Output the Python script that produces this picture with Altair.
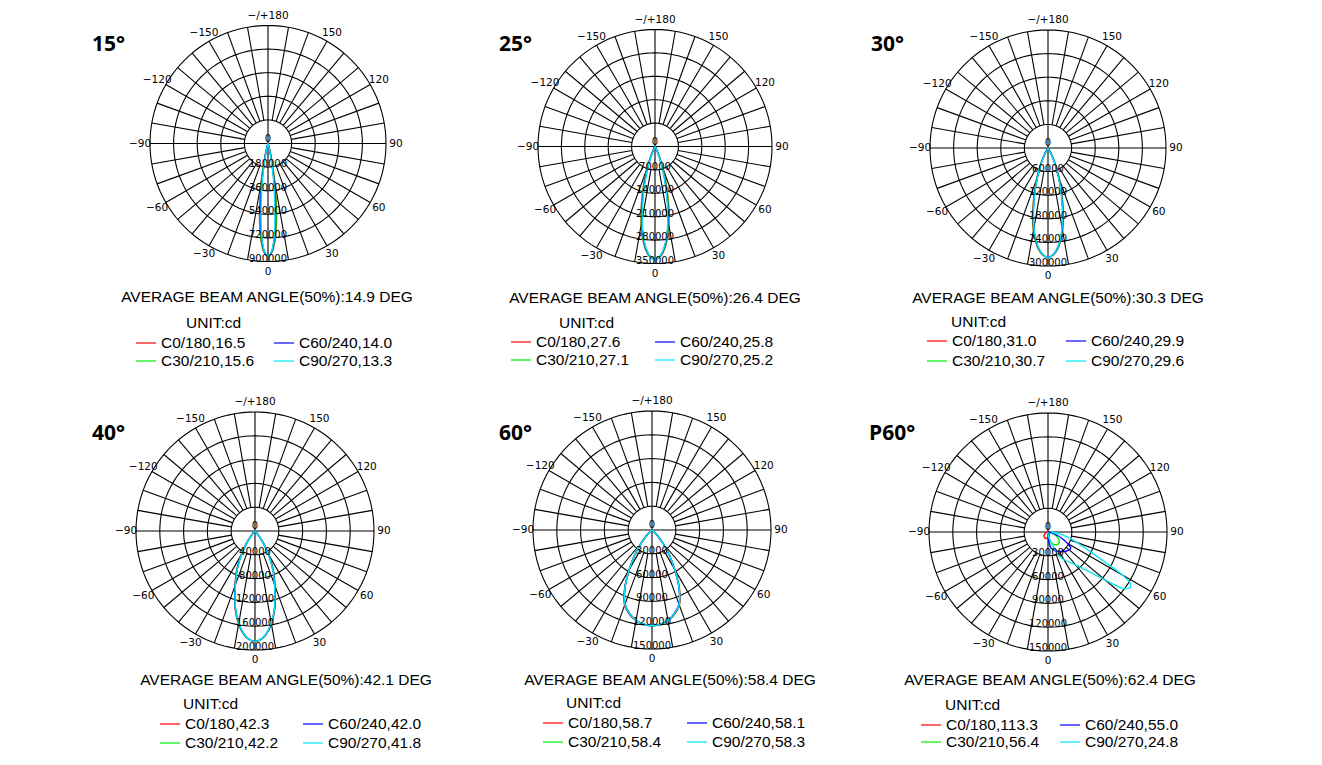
import math
import pandas as pd
import altair as alt

W, H = 1322, 765

# ---------------- data ----------------
PANEL_NAMES = ["15°", "25°", "30°", "40°", "60°", "P60°"]
BEAM_AVG = ["14.9", "26.4", "30.3", "42.1", "58.4", "62.4"]
RING_STEP = [180000, 70000, 60000, 40000, 30000, 30000]
SERIES = ["C0/180", "C30/210", "C60/240", "C90/270"]
SERIES_BEAM = [
    ["16.5", "15.6", "14.0", "13.3"],
    ["27.6", "27.1", "25.8", "25.2"],
    ["31.0", "30.7", "29.9", "29.6"],
    ["42.3", "42.2", "42.0", "41.8"],
    ["58.7", "58.4", "58.1", "58.3"],
    ["113.3", "56.4", "55.0", "24.8"],
]
COLORS = ["#ff0000", "#00ee00", "#0000ff", "#00e8f8"]
ANGLE_TICKS = [0, 30, 60, 90, 120, 150, 180, 210, 240, 270, 300, 330]
ANGLE_TEXT = ["0", "30", "60", "90", "120", "150", "\u2212/+180", "\u2212150", "\u2212120",
              "\u221290", "\u221260", "\u221230"]

# symmetric panels: half-profile (angle from nadir, deg) -> intensity (cd), mirrored for C180 side
P1_ANG = [0, 2, 4, 6, 8, 10, 12, 14, 16, 18, 20]
P1_C0 = [860000, 832000, 748000, 612000, 452000, 298000, 168000, 80000, 30000, 10000, 0]
P1_C30 = [860000, 828000, 738000, 594000, 428000, 268000, 145000, 65000, 22000, 6000, 0]
P1_C60 = [860000, 822000, 712000, 554000, 378000, 220000, 110000, 45000, 14000, 3000, 0]
P1_C90 = [860000, 818000, 700000, 512000, 332000, 195000, 90000, 35000, 10000, 2000, 0]

P2_ANG = [0, 3, 6, 9, 12, 15, 18, 21, 24, 27, 30, 33]
P2_C0 = [337000, 328000, 300000, 255000, 200000, 145000, 95000, 55000, 27000, 10000, 3000, 0]
P2_C30 = [337000, 327000, 298000, 252000, 196000, 140000, 90000, 51000, 24000, 9000, 2000, 0]
P2_C60 = [337000, 326000, 294000, 245000, 186000, 128000, 80000, 43000, 19000, 7000, 1500, 0]
P2_C90 = [337000, 325000, 292000, 241000, 180000, 122000, 75000, 40000, 17000, 6000, 1000, 0]

P3_ANG = [0, 3, 6, 9, 12, 15, 18, 21, 24, 27, 30, 33, 36, 39]
P3_C0 = [278000, 272000, 254000, 225000, 188000, 145000, 108000, 76000, 49000, 28000, 13000, 5000, 1200, 0]
P3_C30 = [278000, 271000, 253000, 223000, 185000, 142000, 105000, 73000, 47000, 26000, 12000, 4500, 1000, 0]
P3_C60 = [278000, 270000, 251000, 220000, 180000, 138000, 100000, 69000, 43000, 23000, 10000, 3500, 800, 0]
P3_C90 = [278000, 270000, 250000, 218000, 178000, 136000, 98000, 67000, 41000, 22000, 9500, 3000, 700, 0]

P4_ANG = [0, 4, 8, 12, 16, 20, 24, 28, 32, 36, 40, 44, 48]
P4_C0 = [185500, 181000, 168000, 148000, 124000, 98000, 78000, 57000, 37000, 20000, 8500, 2500, 0]
P4_C30 = [185500, 181000, 167500, 147500, 123500, 97500, 77000, 56000, 36000, 19500, 8000, 2300, 0]
P4_C60 = [185500, 180500, 167000, 147000, 123000, 97000, 76000, 55000, 35000, 19000, 7800, 2200, 0]
P4_C90 = [185500, 180500, 166500, 146500, 122000, 96000, 75000, 54000, 34000, 18000, 7500, 2000, 0]

P5_ANG = [0, 5, 10, 15, 20, 25, 30, 35, 40, 45, 50, 55, 60]
P5_C0 = [120600, 119500, 116000, 110000, 101000, 82000, 57500, 38000, 21000, 9000, 3000, 600, 0]
P5_C30 = [120600, 119400, 115800, 109500, 100000, 81000, 57000, 37500, 20500, 8800, 2900, 550, 0]
P5_C60 = [120600, 119300, 115500, 109000, 99500, 80500, 56500, 37000, 20000, 8500, 2800, 500, 0]
P5_C90 = [120600, 119300, 115600, 109200, 99800, 80800, 56800, 37300, 20300, 8600, 2850, 520, 0]

# asymmetric panel (P60): full profile, signed angle from nadir (deg)
P6_C0_ANG = [-90, -75, -60, -45, -30, -15, 0, 15, 30, 45, 60]
P6_C0 = [0, 2000, 4500, 7000, 8500, 8500, 7500, 5000, 2500, 800, 0]
P6_C30_ANG = [0, 10, 20, 30, 40, 50, 60, 70, 80, 90]
P6_C30 = [0, 9000, 15000, 18500, 20000, 18500, 14000, 8000, 2000, 0]
P6_C60_ANG = [-10, 0, 10, 20, 30, 40, 50, 55, 60, 65, 70, 80, 90]
P6_C60 = [0, 3000, 20000, 25000, 28000, 32000, 35000, 35000, 28000, 20000, 12000, 3000, 0]
P6_C90_ANG = [-10, 0, 10, 20, 26, 30, 35, 40, 45, 50, 53, 56, 58, 60, 62, 66, 71, 80, 90]
P6_C90 = [0, 3000, 8000, 20000, 35000, 40000, 46000, 54000, 68000, 94000, 118000, 125000,
          122000, 108000, 82000, 54000, 36000, 16000, 4000]

SYM = [
    (P1_ANG, [P1_C0, P1_C30, P1_C60, P1_C90]),
    (P2_ANG, [P2_C0, P2_C30, P2_C60, P2_C90]),
    (P3_ANG, [P3_C0, P3_C30, P3_C60, P3_C90]),
    (P4_ANG, [P4_C0, P4_C30, P4_C60, P4_C90]),
    (P5_ANG, [P5_C0, P5_C30, P5_C60, P5_C90]),
]
ASYM = [(P6_C0_ANG, P6_C0), (P6_C30_ANG, P6_C30), (P6_C60_ANG, P6_C60), (P6_C90_ANG, P6_C90)]

# ---------------- layout ----------------
CENTERS = [(268, 143.5), (655, 146.5), (1048, 148), (255, 531), (652, 530), (1048, 532)]
RADII = [118, 117, 118, 119, 119, 119]
NAME_POS = [(92, 45), (499, 45), (871, 45), (92, 434), (499, 434), (869, 434)]
# title cx, title y, unit x, unit y, line1 x, line2 x, row1 y, row2 y
LEG = [
    (267, 297, 186, 323, 136, 274, 343, 361),
    (655, 298, 559, 323, 511, 655, 342, 360),
    (1058, 298, 951, 322, 927, 1066, 341, 361),
    (286, 680, 183, 704, 160, 303, 724, 743),
    (670, 680, 566, 703, 543, 687, 723, 742),
    (1050, 680, 945, 705, 921, 1060, 725, 742),
]


def pol(cx, cy, r, deg):
    t = math.radians(deg)
    return cx + r * math.sin(t), cy + r * math.cos(t)


grid, spokes, curves, alabels, rlabels = [], [], [], [], []
titles, names, legtext, leglines = [], [], [], []

for p, (cx, cy) in enumerate(CENTERS):
    R = RADII[p]
    smax = RING_STEP[p] * 5
    for k in range(1, 6):
        for j in range(0, 361, 3):
            x, y = pol(cx, cy, R * k / 5, j)
            grid.append(dict(key=f"{p}-{k}", o=j, x=x, y=y))
    for a in range(0, 360, 10):
        r0 = 0 if a % 90 == 0 else R / 5
        x1, y1 = pol(cx, cy, r0, a)
        x2, y2 = pol(cx, cy, R, a)
        spokes.append(dict(x=x1, y=y1, x2=x2, y2=y2))
    for a, t in zip(ANGLE_TICKS, ANGLE_TEXT):
        x, y = pol(cx, cy, R + 10, a)
        alabels.append(dict(x=x, y=y, t=t))
    rlabels.append(dict(x=cx, y=cy - 5, t="0"))
    for k in range(1, 6):
        rlabels.append(dict(x=cx, y=cy + R * k / 5 - 3, t=str(RING_STEP[p] * k)))
    # curves
    if p < 5:
        angs, sers = SYM[p]
        for s, vals in enumerate(sers):
            full_a = [-a for a in angs[::-1]] + angs[1:]
            full_v = vals[::-1] + vals[1:]
            for o, (a, v) in enumerate(zip(full_a, full_v)):
                x, y = pol(cx, cy, v / smax * R, a)
                curves.append(dict(key=f"{p}-{s}", s=SERIES[s], si=s, o=o, x=x, y=y))
    else:
        for s, (angs, vals) in enumerate(ASYM):
            for o, (a, v) in enumerate(zip(angs, vals)):
                x, y = pol(cx, cy, v / smax * R, a)
                curves.append(dict(key=f"{p}-{s}", s=SERIES[s], si=s, o=o, x=x, y=y))
    tcx, ty, ux, uy, l1, l2, r1, r2 = LEG[p]
    titles.append(dict(x=tcx, y=ty, t=f"AVERAGE BEAM ANGLE(50%):{BEAM_AVG[p]} DEG"))
    legtext.append(dict(x=ux, y=uy, t="UNIT:cd"))
    names.append(dict(x=NAME_POS[p][0], y=NAME_POS[p][1], t=PANEL_NAMES[p]))
    slots = [(l1, r1), (l1, r2), (l2, r1), (l2, r2)]
    for s in range(4):
        lx, ly = slots[s]
        leglines.append(dict(x=lx, x2=lx + 20, y=ly, s=SERIES[s]))
        legtext.append(dict(x=lx + 25, y=ly, t=f"{SERIES[s]},{SERIES_BEAM[p][s]}"))

xs = alt.Scale(domain=[0, W], nice=False, zero=False)
ys = alt.Scale(domain=[H, 0], nice=False, zero=False)
cs = alt.Scale(domain=SERIES, range=COLORS)


def X(f="x"):
    return alt.X(f"{f}:Q", scale=xs, axis=None)


def Y(f="y"):
    return alt.Y(f"{f}:Q", scale=ys, axis=None)


grid_l = alt.Chart(pd.DataFrame(grid)).mark_line(color="#000000", strokeWidth=1.1).encode(
    x=X(), y=Y(), detail="key:N", order="o:Q")
spoke_l = alt.Chart(pd.DataFrame(spokes)).mark_rule(color="#000000", strokeWidth=1.1).encode(
    x=X(), y=Y(), x2="x2:Q", y2="y2:Q")
curve_l = alt.Chart(pd.DataFrame(curves)).mark_line(strokeWidth=1.4, interpolate="catmull-rom").encode(
    x=X(), y=Y(), detail="key:N", order="o:Q",
    color=alt.Color("s:N", scale=cs, legend=None))
alab_l = alt.Chart(pd.DataFrame(alabels)).mark_text(
    font="DejaVu Sans", fontSize=10.5, color="#000000", align="center", baseline="middle").encode(
    x=X(), y=Y(), text="t:N")
rlab_l = alt.Chart(pd.DataFrame(rlabels)).mark_text(
    font="DejaVu Sans", fontSize=10, color="#000000", align="center", baseline="middle").encode(
    x=X(), y=Y(), text="t:N")
title_l = alt.Chart(pd.DataFrame(titles)).mark_text(
    font="Liberation Sans", fontSize=15.5, color="#000000", align="center", baseline="middle").encode(
    x=X(), y=Y(), text="t:N")
name_l = alt.Chart(pd.DataFrame(names)).mark_text(
    font="Open Sans", fontSize=21, fontWeight="bold", color="#000000", align="left", baseline="middle").encode(
    x=X(), y=Y(), text="t:N")
legt_l = alt.Chart(pd.DataFrame(legtext)).mark_text(
    font="Liberation Sans", fontSize=15.5, color="#000000", align="left", baseline="middle").encode(
    x=X(), y=Y(), text="t:N")
legl_l = alt.Chart(pd.DataFrame(leglines)).mark_rule(strokeWidth=1.2).encode(
    x=X(), x2="x2:Q", y=Y(), color=alt.Color("s:N", scale=cs, legend=None))

chart = alt.layer(grid_l, spoke_l, curve_l, alab_l, rlab_l, title_l, name_l, legt_l, legl_l).properties(
    width=W, height=H, padding=0, autosize=alt.AutoSizeParams(type="none"),
    background="#ffffff",
).configure_view(stroke=None)

chart.save("out.html", embed_options={"renderer": "svg", "actions": False})
